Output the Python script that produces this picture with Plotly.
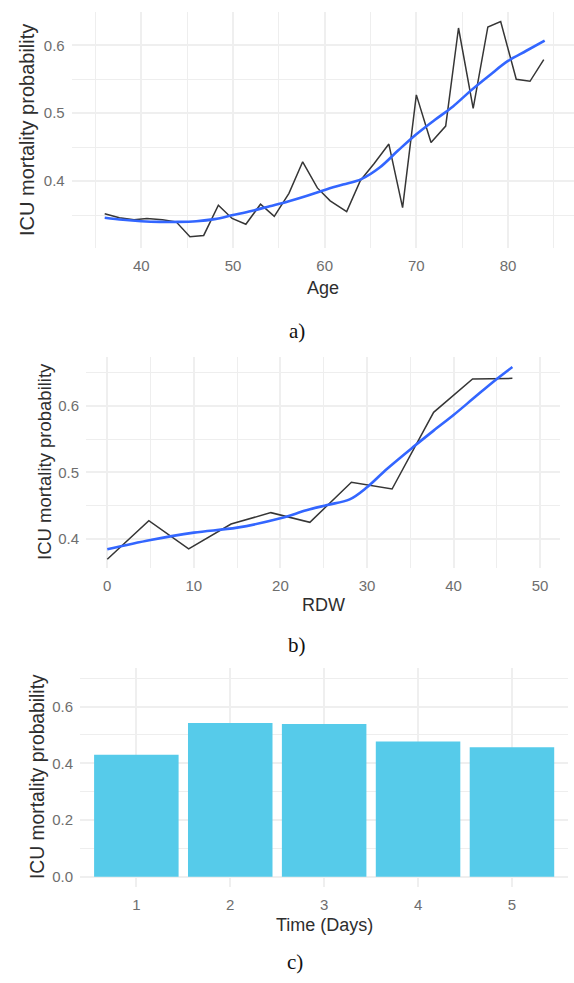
import plotly.graph_objects as go

W, H = 574, 983

# ---------- data ----------
age = [36.0, 37.6, 39.2, 40.6, 42.3, 43.8, 45.3, 46.8, 48.4, 49.9, 51.4, 53.0, 54.5, 56.1, 57.6, 59.2,
       60.6, 62.4, 63.9, 65.4, 67.0, 68.5, 70.0, 71.6, 73.2, 74.6, 76.2, 77.8, 79.2, 80.9, 82.4, 83.9]
age_prob = [0.352, 0.346, 0.343, 0.345, 0.343, 0.340, 0.318, 0.320, 0.3645, 0.345, 0.3365, 0.366, 0.348, 0.382,
            0.4285, 0.390, 0.371, 0.355, 0.401, 0.426, 0.4546, 0.361, 0.527, 0.457, 0.481, 0.6255, 0.507,
            0.627, 0.635, 0.550, 0.547, 0.579]
age_smooth_x = [36, 38, 40, 42, 44, 46, 48, 50, 52, 54, 56, 58, 60, 62, 64, 66, 68, 70, 72, 74, 76, 78, 80, 82, 84]
age_smooth_y = [0.346, 0.343, 0.341, 0.340, 0.340, 0.341, 0.344, 0.350, 0.356, 0.363, 0.370, 0.378, 0.387,
                0.395, 0.403, 0.420, 0.445, 0.469, 0.490, 0.510, 0.534, 0.556, 0.577, 0.592, 0.607]

rdw = [0.0, 4.8, 9.4, 14.3, 18.9, 23.4, 28.2, 32.9, 37.7, 42.2, 46.8]
rdw_prob = [0.3695, 0.4275, 0.385, 0.4225, 0.4395, 0.425, 0.485, 0.475, 0.590, 0.640, 0.641]
rdw_smooth_x = [0, 5, 10, 15, 20, 23, 25.4, 28, 30, 32.3, 35.4, 37.7, 40, 42.3, 44.6, 46.8]
rdw_smooth_y = [0.3845, 0.3985, 0.4095, 0.417, 0.431, 0.443, 0.451, 0.4595, 0.4776, 0.505, 0.5386,
                0.5626, 0.586, 0.611, 0.636, 0.658]

days = [1, 2, 3, 4, 5]
day_prob = [0.430, 0.542, 0.5385, 0.477, 0.457]

# ---------- style ----------
TICK_FONT = dict(family="Liberation Sans, Arial", size=15, color="#6e6e6e")
GRID = "#efefef"
MINOR = "#eeeeee"
BLACK = "#363636"
BLUE = "#3366FF"
BAR = "#56CBEA"


def px_x(p):
    return p / W


def px_y(p):
    return 1 - p / H


fig = go.Figure()

# panel a
fig.add_trace(go.Scatter(x=age, y=age_prob, mode="lines", line=dict(color=BLACK, width=1.5),
                         xaxis="x", yaxis="y", showlegend=False))
fig.add_trace(go.Scatter(x=age_smooth_x, y=age_smooth_y, mode="lines", line=dict(color=BLUE, width=2.6, shape="spline"),
                         xaxis="x", yaxis="y", showlegend=False))
# panel b
fig.add_trace(go.Scatter(x=rdw, y=rdw_prob, mode="lines", line=dict(color=BLACK, width=1.5),
                         xaxis="x2", yaxis="y2", showlegend=False))
fig.add_trace(go.Scatter(x=rdw_smooth_x, y=rdw_smooth_y, mode="lines", line=dict(color=BLUE, width=2.6, shape="spline"),
                         xaxis="x2", yaxis="y2", showlegend=False))
# panel c
fig.add_trace(go.Bar(x=days, y=day_prob, width=0.9, marker=dict(color=BAR, line=dict(width=0)),
                     xaxis="x3", yaxis="y3", showlegend=False))


def xax(domain, rng, tickvals, minor_dtick, anchor):
    d = dict(domain=domain, range=rng, anchor=anchor, tickvals=tickvals, ticktext=[str(t) for t in tickvals],
             showgrid=True, gridcolor=GRID, gridwidth=2, zeroline=False, showline=False, ticks="",
             tickfont=TICK_FONT, ticklabelstandoff=7, fixedrange=True)
    if minor_dtick:
        d["minor"] = dict(dtick=minor_dtick, tick0=0, showgrid=True, gridcolor=MINOR, gridwidth=1)
    return d


def yax(domain, rng, tickvals, ticktext, minor_vals, anchor):
    return dict(domain=domain, range=rng, anchor=anchor, tickvals=tickvals, ticktext=ticktext,
                showgrid=True, gridcolor=GRID, gridwidth=2, zeroline=False, showline=False, ticks="",
                tickfont=TICK_FONT, ticklabelstandoff=6, fixedrange=True,
                minor=dict(tickvals=minor_vals, showgrid=True, gridcolor=MINOR, gridwidth=1))


layout = dict(
    width=W, height=H, margin=dict(l=0, r=0, t=0, b=0),
    paper_bgcolor="white", plot_bgcolor="white",
    xaxis=xax([px_x(71.7), 1.0], [32.4, 87.2], [40, 50, 60, 70, 80], 5, "y"),
    yaxis=yax([px_y(248), px_y(11.7)], [0.3015, 0.6495], [0.4, 0.5, 0.6], ["0.4", "0.5", "0.6"],
              [0.35, 0.45, 0.55], "x"),
    xaxis2=xax([px_x(86), px_x(560)], [-2.46, 52.3], [0, 10, 20, 30, 40, 50], 5, "y2"),
    yaxis2=yax([px_y(568.3), px_y(356.7)], [0.356, 0.6735], [0.4, 0.5, 0.6], ["0.4", "0.5", "0.6"],
               [0.45, 0.55, 0.65], "x2"),
    xaxis3=xax([px_x(80), px_x(568.3)], [0.4, 5.6], days, None, "y3"),
    yaxis3=yax([px_y(886.7), px_y(668)], [-0.035, 0.736], [0.0, 0.2, 0.4, 0.6], ["0.0", "0.2", "0.4", "0.6"],
               [0.1, 0.3, 0.5, 0.7], "x3"),
)
fig.update_layout(**layout)

ann = []


def text(x, y, s, size, angle=0, family="Liberation Sans, Arial", color="#2e2e2e"):
    ann.append(dict(x=px_x(x), y=px_y(y), xref="paper", yref="paper", text=s, showarrow=False,
                    xanchor="center", yanchor="middle", textangle=angle,
                    font=dict(family=family, size=size, color=color)))


text(323, 288, "Age", 18)
text(27, 130, "ICU mortality probability", 20, -90)
text(297, 331, "a)", 21, family="Liberation Serif, Times New Roman", color="#111")

text(323, 605, "RDW", 18)
text(44, 462, "ICU mortality probability", 18.5, -90)
text(297, 645, "b)", 21, family="Liberation Serif, Times New Roman", color="#111")

text(324, 925, "Time (Days)", 18)
text(37, 777, "ICU mortality probability", 19.3, -90)
text(295, 962, "c)", 21, family="Liberation Serif, Times New Roman", color="#111")

fig.update_layout(annotations=ann)

fig.write_html("out.html", config={"displayModeBar": False, "staticPlot": True},
               post_script="document.body.style.margin='0';document.body.style.overflow='hidden';")
